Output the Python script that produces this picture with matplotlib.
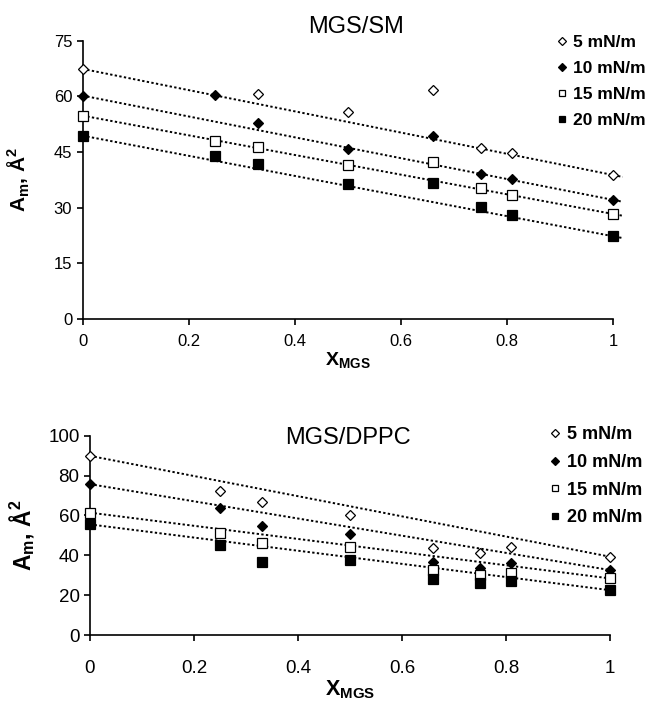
import numpy as np
import matplotlib
matplotlib.use("Agg")
import matplotlib.pyplot as plt

plt.rcParams['font.family'] = ['Liberation Sans', 'DejaVu Sans']
plt.rcParams['mathtext.fontset'] = 'custom'
plt.rcParams['mathtext.rm'] = 'Liberation Sans'
plt.rcParams['mathtext.bf'] = 'Liberation Sans:bold'

# mole fraction of MGS
x_mgs = [0, 0.25, 0.33, 0.5, 0.66, 0.75, 0.81, 1]
labels = ['5 mN/m', '10 mN/m', '15 mN/m', '20 mN/m']

# MGS/SM (the 5 mN/m point at 0.25 is not visible)
sm_5 = [67.4, np.nan, 60.6, 55.7, 61.8, 46.2, 44.7, 38.8]
sm_10 = [60.2, 60.4, 52.7, 45.8, 49.3, 39.1, 37.7, 32.1]
sm_15 = [54.8, 48.0, 46.4, 41.4, 42.4, 35.4, 33.4, 28.3]
sm_20 = [49.4, 43.8, 41.9, 36.3, 36.7, 30.2, 28.0, 22.3]

# MGS/DPPC
dppc_5 = [89.9, 72.3, 66.8, 60.1, 43.5, 41.1, 44.3, 39.3]
dppc_10 = [75.7, 63.9, 54.7, 50.8, 36.6, 33.7, 35.9, 32.6]
dppc_15 = [61.4, 51.0, 46.0, 44.0, 32.4, 30.0, 31.2, 28.4]
dppc_20 = [55.5, 45.3, 36.6, 37.8, 27.9, 26.3, 27.0, 22.5]

markers = [
    dict(marker='D', mfc='white', mec='black', ms=5.5, mew=0.9),
    dict(marker='D', mfc='black', mec='black', ms=5.5, mew=0.9),
    dict(marker='s', mfc='white', mec='black', ms=6.5, mew=0.9),
    dict(marker='s', mfc='black', mec='black', ms=6.5, mew=0.9),
]

fig = plt.figure(figsize=(6.51, 7.03), dpi=100)


def panel(ax, series, ymax, yticks, fs, lfs, title, title_xy, leg_anchor, leg_space,
          xlab_pad, ylab_pad, ext):
    for s, m, lab in zip(series, markers, labels):
        ax.plot(x_mgs, s, linestyle='none', label=lab, clip_on=False, zorder=3, **m)
        # ideal mixing line between the pure components
        xl = np.array([0, 1 + ext])
        yl = s[0] + (s[-1] - s[0]) * xl
        ax.plot(xl, yl, color='black', linestyle=(0, (1.2, 1.2)), lw=1.4, clip_on=False, zorder=2)
    ax.set_xlim(0, 1)
    ax.set_ylim(0, ymax)
    ax.set_yticks(yticks)
    ax.set_xticks([0, 0.2, 0.4, 0.6, 0.8, 1])
    ax.set_xticklabels(['0', '0.2', '0.4', '0.6', '0.8', '1'])
    for sp in ['top', 'right']:
        ax.spines[sp].set_visible(False)
    for sp in ['left', 'bottom']:
        ax.spines[sp].set_linewidth(1.2)
    ax.tick_params(axis='both', direction='out', length=4, width=1.2, labelsize=fs)
    ax.tick_params(axis='x', pad=xlab_pad)
    ax.set_xlabel(r'X$_\mathbf{MGS}$', fontsize=fs + 2, fontweight='bold', labelpad=1)
    ax.set_ylabel(r'A$_\mathbf{m}$, Å$^\mathbf{2}$', fontsize=fs + 3, fontweight='bold',
                  labelpad=ylab_pad)
    fig.text(title_xy[0], title_xy[1], title, fontsize=17, ha='center', va='center')
    ax.legend(loc='upper left', bbox_to_anchor=leg_anchor, bbox_transform=fig.transFigure,
              frameon=False, prop={'weight': 'bold', 'size': lfs}, markerscale=0.75,
              handlelength=0.6, handletextpad=0.35, labelspacing=leg_space, borderpad=0,
              borderaxespad=0)


ax1 = fig.add_axes([0.127, 0.5462, 0.815, 0.3959])
panel(ax1, [sm_5, sm_10, sm_15, sm_20], 75, [0, 15, 30, 45, 60, 75], 12, 12.5,
      'MGS/SM', (356 / 651, 1 - 27 / 703), (557 / 651, 1 - 35 / 703), 0.63, 7, 16, 0.018)

ax2 = fig.add_axes([0.1382, 0.0967, 0.7988, 0.2835])
panel(ax2, [dppc_5, dppc_10, dppc_15, dppc_20], 100, [0, 20, 40, 60, 80, 100], 13.5, 13,
      'MGS/DPPC', (348 / 651, 1 - 438 / 703), (550 / 651, 1 - 426 / 703), 0.6, 14, 8, 0.006)

fig.savefig('out.png', dpi=100)
